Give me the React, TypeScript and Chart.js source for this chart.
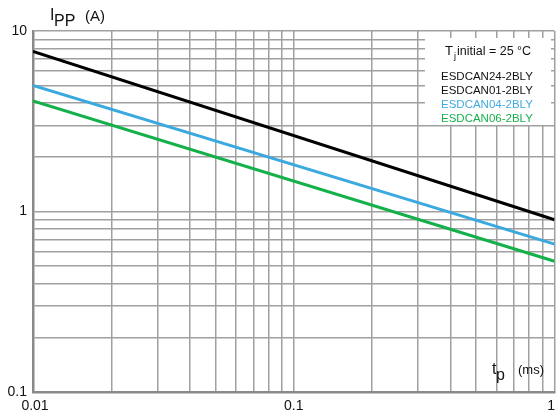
import React, { useEffect, useRef } from "react";
import { Chart, registerables } from "chart.js";

Chart.register(...registerables);

// Data (log-log straight lines, read at tp = 0.01 ms and tp = 1 ms)
const tpMs = [0.01, 1];
const esdcan24 = [7.7, 0.9];
const esdcan04 = [5.0, 0.66];
const esdcan06 = [4.1, 0.53];

const xTickValues = [0.01, 0.1, 1];
const xTickLabels = ["0.01", "0.1", "1"];
const yTickValues = [0.1, 1, 10];
const yTickLabels = ["0.1", "1", "10"];

const legendLabels = ["ESDCAN24-2BLY", "ESDCAN01-2BLY", "ESDCAN04-2BLY", "ESDCAN06-2BLY"];
const legendColors = ["#111111", "#111111", "#3fabe0", "#17b14c"];

const FONT = '"Liberation Sans", Arial, sans-serif';

function logGridTicks(min: number, max: number) {
  const out: { value: number }[] = [];
  let decade = Math.pow(10, Math.floor(Math.log10(min) + 1e-9));
  while (decade <= max * 1.0001) {
    for (let m = 1; m <= 9; m++) {
      const v = +(m * decade).toPrecision(6);
      if (v >= min * 0.9999 && v <= max * 1.0001) out.push({ value: v });
    }
    decade *= 10;
  }
  return out;
}

const boxPlugin = {
  id: "legendBox",
  beforeDatasetsDraw(chart: any) {
    const ctx = chart.ctx;
    ctx.save();
    ctx.fillStyle = "#ffffff";
    ctx.fillRect(425, 38, 126, 87);
    ctx.restore();
  },
  afterDraw(chart: any) {
    const ctx = chart.ctx;
    const xs = chart.scales.x;
    const ys = chart.scales.y;
    ctx.save();
    ctx.fillStyle = "#111";
    // y tick labels
    ctx.font = `14px ${FONT}`;
    ctx.textAlign = "right";
    ctx.textBaseline = "middle";
    yTickValues.forEach((v, i) => {
      ctx.fillText(yTickLabels[i], 27, ys.getPixelForValue(v));
    });
    // x tick labels
    ctx.font = `14px ${FONT}`;
    ctx.textAlign = "center";
    ctx.textBaseline = "alphabetic";
    xTickValues.forEach((v, i) => {
      const w = ctx.measureText(xTickLabels[i]).width;
      let cx = xs.getPixelForValue(v);
      if (i === 0) cx += 2;
      cx = Math.min(cx, chart.width - w / 2 - 1);
      ctx.fillText(xTickLabels[i], cx, 410);
    });
    // y axis title  I_PP (A)
    ctx.textAlign = "left";
    ctx.font = `16px ${FONT}`;
    ctx.fillText("I", 50, 20);
    ctx.fillText("PP", 54, 26);
    ctx.font = `15px ${FONT}`;
    ctx.fillText("(A)", 85, 21);
    // x axis title  t_p (ms)
    ctx.font = `16px ${FONT}`;
    ctx.fillText("t", 492, 374);
    ctx.fillText("p", 496, 380);
    ctx.font = `13px ${FONT}`;
    ctx.fillText("(ms)", 518, 374);
    // legend
    ctx.font = `13px ${FONT}`;
    ctx.fillText("T", 445, 55);
    ctx.font = `9px ${FONT}`;
    ctx.fillText("j", 454, 59);
    ctx.font = `12.5px ${FONT}`;
    ctx.fillText("initial = 25 °C", 457, 55);
    ctx.font = `11.5px ${FONT}`;
    legendLabels.forEach((t, i) => {
      ctx.fillStyle = legendColors[i];
      ctx.fillText(t, 441, 80 + i * 14);
    });
    ctx.restore();
  },
};

export default function App() {
  const ref = useRef<HTMLCanvasElement | null>(null);
  useEffect(() => {
    document.body.style.margin = "0";
    const canvas = ref.current!;
    const mk = (ys: number[]) => tpMs.map((x, i) => ({ x, y: ys[i] }));
    const chart = new Chart(canvas, {
      type: "line",
      data: {
        datasets: [
          { label: "ESDCAN24-2BLY", data: mk(esdcan24), borderColor: "#000000", borderWidth: 3, pointRadius: 0 },
          { label: "ESDCAN04-2BLY", data: mk(esdcan04), borderColor: "#3aa9e0", borderWidth: 3, pointRadius: 0 },
          { label: "ESDCAN06-2BLY", data: mk(esdcan06), borderColor: "#14b04a", borderWidth: 3, pointRadius: 0 },
        ],
      },
      options: {
        responsive: false,
        animation: false,
        devicePixelRatio: 1,
        layout: { padding: { left: 33, right: 1.5, top: 31, bottom: 22 } },
        plugins: { legend: { display: false }, tooltip: { enabled: false } },
        scales: {
          x: {
            type: "logarithmic",
            min: 0.01,
            max: 1,
            afterBuildTicks: (s: any) => { s.ticks = logGridTicks(0.01, 1); },
            ticks: { display: false, autoSkip: false },
            grid: { color: "#a0a0a0", lineWidth: 1.5, drawTicks: false },
            border: { display: true, color: "#8a8a8a", width: 2.5 },
          },
          y: {
            type: "logarithmic",
            min: 0.1,
            max: 10,
            afterBuildTicks: (s: any) => { s.ticks = logGridTicks(0.1, 10); },
            ticks: { display: false, autoSkip: false },
            grid: { color: "#a0a0a0", lineWidth: 1.5, drawTicks: false },
            border: { display: true, color: "#8a8a8a", width: 2.5 },
          },
        },
      },
      plugins: [boxPlugin],
    });
    return () => chart.destroy();
  }, []);
  return (
    <div style={{ position: "absolute", left: 0, top: 0, width: 556, height: 414, background: "#fff" }}>
      <canvas ref={ref} width={556} height={414} style={{ display: "block" }} />
    </div>
  );
}
